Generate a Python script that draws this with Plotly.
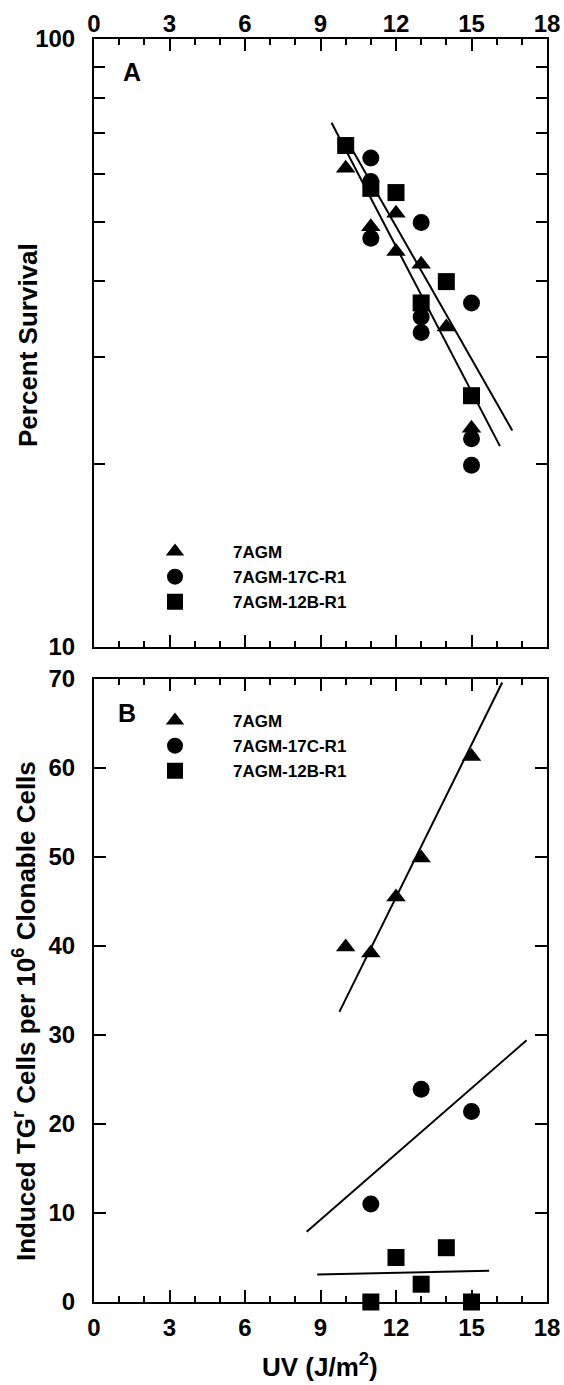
import plotly.graph_objects as go

# ---------------- Panel A : percent survival ----------------
a_tri_x = [10, 11, 12, 12, 13, 14, 15]
a_tri_y = [61.3, 49.1, 51.7, 44.7, 42.6, 33.6, 22.9]
a_cir_x = [11, 11, 11, 13, 13, 13, 15, 15, 15]
a_cir_y = [63.7, 58.3, 47.0, 49.9, 34.9, 32.9, 36.8, 22.0, 19.9]
a_sq_x = [10, 11, 12, 13, 14, 15]
a_sq_y = [66.8, 56.8, 55.9, 36.8, 39.9, 25.9]
a_fit1_x = [9.44, 16.13]
a_fit1_y = [72.8, 21.4]
a_fit2_x = [10.1, 16.62]
a_fit2_y = [67.6, 22.7]

# ---------------- Panel B : induced TGr mutants ----------------
b_tri_x = [10, 11, 12, 13, 15]
b_tri_y = [39.9, 39.2, 45.5, 49.9, 61.3]
b_cir_x = [11, 13, 15]
b_cir_y = [11.0, 23.9, 21.4]
b_sq_x = [11, 12, 13, 14, 15]
b_sq_y = [0.0, 5.0, 2.0, 6.1, 0.0]
b_fit_tri_x = [9.75, 16.22]
b_fit_tri_y = [32.6, 69.6]
b_fit_cir_x = [8.45, 17.19]
b_fit_cir_y = [7.9, 29.4]
b_fit_sq_x = [8.87, 15.7]
b_fit_sq_y = [3.1, 3.5]

series_names = ["7AGM", "7AGM-17C-R1", "7AGM-12B-R1"]
x_ticks = [0, 3, 6, 9, 12, 15, 18]
a_y_major = [10, 100]
a_y_minor = [20, 30, 40, 50, 60, 70, 80, 90]
b_y_ticks = [0, 10, 20, 30, 40, 50, 60, 70]

W, H = 564, 1385
FONT = "Liberation Sans, Arial, Helvetica, sans-serif"
BLACK = "#000000"


def px_x(p):
    return p / W


def px_y(p):
    return 1 - p / H


fig = go.Figure()

sym = ["triangle-up", "circle", "square"]
sizes = [17, 17, 17]

# Panel A markers
for (xs, ys), name, s, sz in zip(
    [(a_tri_x, a_tri_y), (a_cir_x, a_cir_y), (a_sq_x, a_sq_y)], series_names, sym, sizes
):
    fig.add_trace(go.Scatter(
        x=xs, y=ys, mode="markers", name=name, xaxis="x", yaxis="y",
        marker=dict(symbol=s, size=sz, color=BLACK, line=dict(width=0)),
        cliponaxis=False, legend="legend",
    ))
for fx, fy in [(a_fit1_x, a_fit1_y), (a_fit2_x, a_fit2_y)]:
    fig.add_trace(go.Scatter(
        x=fx, y=fy, mode="lines", xaxis="x", yaxis="y", showlegend=False,
        line=dict(color=BLACK, width=2),
    ))

# Panel B markers
for (xs, ys), name, s, sz in zip(
    [(b_tri_x, b_tri_y), (b_cir_x, b_cir_y), (b_sq_x, b_sq_y)], series_names, sym, sizes
):
    fig.add_trace(go.Scatter(
        x=xs, y=ys, mode="markers", name=name, xaxis="x2", yaxis="y2",
        marker=dict(symbol=s, size=sz, color=BLACK, line=dict(width=0)),
        cliponaxis=False, legend="legend2",
    ))
for fx, fy in [(b_fit_tri_x, b_fit_tri_y), (b_fit_cir_x, b_fit_cir_y), (b_fit_sq_x, b_fit_sq_y)]:
    fig.add_trace(go.Scatter(
        x=fx, y=fy, mode="lines", xaxis="x2", yaxis="y2", showlegend=False,
        line=dict(color=BLACK, width=2),
    ))

tickfont = dict(family=FONT, size=24, color=BLACK, weight="bold")
legfont = dict(family=FONT, size=17, color=BLACK, weight="bold")
xdom = [px_x(94), px_x(547)]

common_x = dict(
    range=[0, 18], domain=xdom, tickvals=x_ticks, ticks="inside", ticklen=12,
    tickwidth=2, tickcolor=BLACK, showline=True, linewidth=2, linecolor=BLACK,
    mirror="ticks", showgrid=False, zeroline=False, tickfont=tickfont,
    minor=dict(dtick=1, ticks="inside", ticklen=6, tickwidth=1.5, tickcolor=BLACK, showgrid=False),
    automargin=False, ticklabeloverflow="allow",
)

fig.update_layout(
    width=W, height=H,
    margin=dict(l=0, r=0, t=0, b=0),
    paper_bgcolor="white", plot_bgcolor="white",
    font=dict(family=FONT, color=BLACK),
    xaxis=dict(common_x, anchor="y", side="top", ticklabelstandoff=-5),
    yaxis=dict(
        type="log", range=[1, 2], domain=[px_y(647), px_y(39)], anchor="x",
        tickvals=a_y_major, ticks="inside", ticklen=11,
        tickwidth=2, tickcolor=BLACK, showline=True, linewidth=2, linecolor=BLACK,
        mirror="ticks", showgrid=False, zeroline=False, tickfont=tickfont,
        minor=dict(tickvals=a_y_minor, ticks="inside", ticklen=11, tickwidth=2,
                   tickcolor=BLACK, showgrid=False),
        ticklabelstandoff=12, automargin=False, ticklabeloverflow="allow",
    ),
    xaxis2=dict(common_x, anchor="y2", side="bottom", ticklabelstandoff=3),
    yaxis2=dict(
        range=[0, 70], domain=[px_y(1302), px_y(679)], anchor="x2",
        tickvals=b_y_ticks, ticks="inside", ticklen=12,
        tickwidth=2, tickcolor=BLACK, showline=True, linewidth=2, linecolor=BLACK,
        mirror="ticks", showgrid=False, zeroline=False, tickfont=tickfont,
        ticklabelstandoff=12, automargin=False, ticklabeloverflow="allow",
    ),
    legend=dict(
        x=px_x(117), y=px_y(534), xanchor="left", yanchor="top",
        font=legfont, itemwidth=106, bgcolor="rgba(0,0,0,0)", borderwidth=0,
    ),
    legend2=dict(
        x=px_x(117), y=px_y(703), xanchor="left", yanchor="top",
        font=legfont, itemwidth=106, bgcolor="rgba(0,0,0,0)", borderwidth=0,
    ),
    showlegend=True,
)

ann_font = dict(family=FONT, size=26, color=BLACK, weight="bold")
fig.add_annotation(text="Percent Survival", x=px_x(28), y=px_y(345), xref="paper", yref="paper",
                   textangle=-90, showarrow=False, font=ann_font, xanchor="center", yanchor="middle")
fig.add_annotation(text="Induced TG<sup>r</sup> Cells per 10<sup>6</sup> Clonable Cells",
                   x=px_x(24), y=px_y(1011), xref="paper", yref="paper",
                   textangle=-90, showarrow=False, font=ann_font, xanchor="center", yanchor="middle")
fig.add_annotation(text="UV (J/m<sup>2</sup>)", x=px_x(320), y=px_y(1384), xref="paper", yref="paper",
                   showarrow=False, font=ann_font, xanchor="center", yanchor="bottom")
fig.add_annotation(text="A", x=px_x(132), y=px_y(72), xref="paper", yref="paper",
                   showarrow=False, font=dict(family=FONT, size=25, color=BLACK, weight="bold"),
                   xanchor="center", yanchor="middle")
fig.add_annotation(text="B", x=px_x(127), y=px_y(713), xref="paper", yref="paper",
                   showarrow=False, font=dict(family=FONT, size=25, color=BLACK, weight="bold"),
                   xanchor="center", yanchor="middle")

fig.write_html(
    "out.html",
    config={"displayModeBar": False},
    post_script="document.body.style.margin='0px';document.body.style.overflow='hidden';",
)
